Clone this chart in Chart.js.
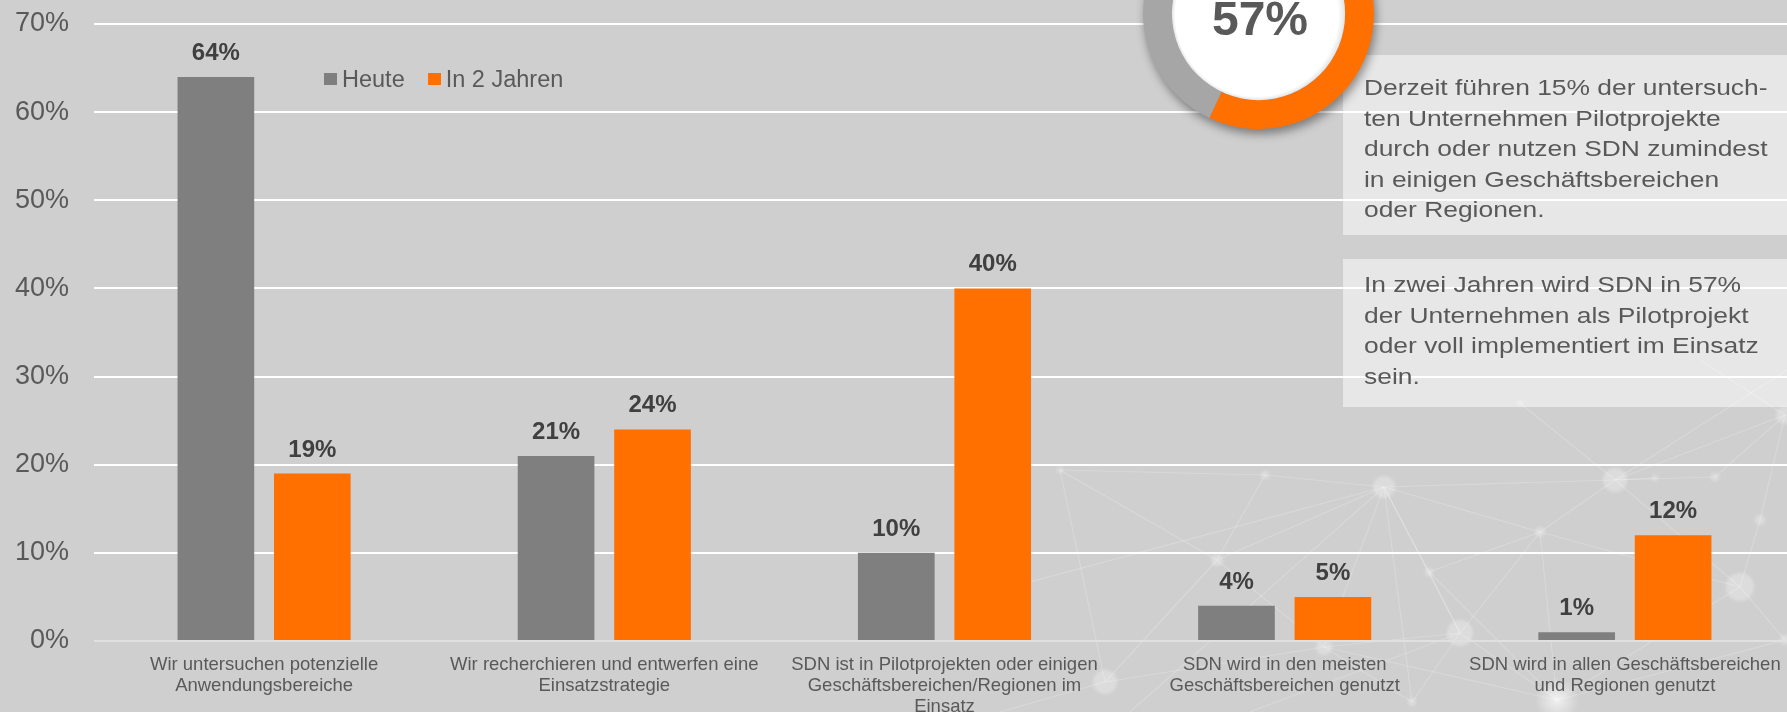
<!DOCTYPE html>
<html lang="de">
<head>
  <meta charset="UTF-8">
  <title>SDN Einsatz heute und in 2 Jahren</title>
  <script src="https://cdn.jsdelivr.net/npm/chart.js"></script>
  <style>
    body {
      margin: 0;
      width: 1787px;
      height: 712px;
      overflow: hidden;
      position: relative;
      background-color: #cfcfcf;
      font-family: Arial, "Liberation Sans", sans-serif;
    }
    .net {
      position: absolute;
      left: 0;
      top: 0;
    }
    .wrap {
      position: absolute;
      left: 0;
      top: 0;
    }
    #legend {
      position: absolute;
      left: 324px;
      top: 65px;
      display: flex;
      align-items: center;
      font-size: 23.5px;
      color: #595959;
      line-height: 28px;
    }
    #legend span.box {
      display: inline-block;
      width: 13px;
      height: 12px;
      margin-right: 5px;
    }
    #legend span.item {
      display: flex;
      align-items: center;
      margin-right: 23px;
    }
    .note {
      position: absolute;
      left: 1343px;
      width: 444px;
      background-color: rgba(255, 255, 255, 0.5);
      box-sizing: border-box;
      padding-left: 21px;
    }
    .note .txt {
      font-size: 22px;
      line-height: 30.5px;
      color: #595959;
      white-space: nowrap;
      transform: scaleX(1.2);
      transform-origin: left top;
    }
    #shareChart {
      position: absolute;
      left: 1143px;
      top: -102px;
      filter: drop-shadow(2px 5px 5px rgba(0, 0, 0, 0.4));
    }
  </style>
</head>
<body>

<svg class="net" width="1787" height="712">
  <defs>
    <radialGradient id="glow">
      <stop offset="0" stop-color="#fff" stop-opacity="0.7"/>
      <stop offset="1" stop-color="#fff" stop-opacity="0"/>
    </radialGradient>
    <filter id="soft"><feGaussianBlur stdDeviation="1.5"/></filter>
  </defs>
  <g stroke="#fff" stroke-opacity="0.2" stroke-width="1.2">
    <line x1="1384" y1="487" x2="1217" y2="560"/>
    <line x1="1384" y1="487" x2="1265" y2="475"/>
    <line x1="1384" y1="487" x2="1540" y2="532"/>
    <line x1="1384" y1="487" x2="1429" y2="572"/>
    <line x1="1384" y1="487" x2="1460" y2="633"/>
    <line x1="1384" y1="487" x2="1324" y2="647"/>
    <line x1="1384" y1="487" x2="1615" y2="480"/>
    <line x1="1384" y1="487" x2="1412" y2="702"/>
    <line x1="1384" y1="487" x2="1000" y2="590"/>
    <line x1="1384" y1="487" x2="1130" y2="712"/>
    <line x1="1615" y1="480" x2="1540" y2="532"/>
    <line x1="1615" y1="480" x2="1655" y2="478"/>
    <line x1="1615" y1="480" x2="1715" y2="477"/>
    <line x1="1615" y1="480" x2="1740" y2="587"/>
    <line x1="1615" y1="480" x2="1520" y2="403"/>
    <line x1="1615" y1="480" x2="1785" y2="415"/>
    <line x1="1540" y1="532" x2="1429" y2="572"/>
    <line x1="1540" y1="532" x2="1460" y2="633"/>
    <line x1="1540" y1="532" x2="1740" y2="587"/>
    <line x1="1540" y1="532" x2="1557" y2="700"/>
    <line x1="1429" y1="572" x2="1460" y2="633"/>
    <line x1="1429" y1="572" x2="1557" y2="700"/>
    <line x1="1217" y1="560" x2="1324" y2="647"/>
    <line x1="1217" y1="560" x2="1105" y2="682"/>
    <line x1="1217" y1="560" x2="1265" y2="475"/>
    <line x1="1217" y1="560" x2="1060" y2="470"/>
    <line x1="1460" y1="633" x2="1324" y2="647"/>
    <line x1="1460" y1="633" x2="1557" y2="700"/>
    <line x1="1460" y1="633" x2="1412" y2="702"/>
    <line x1="1460" y1="633" x2="1250" y2="712"/>
    <line x1="1324" y1="647" x2="1105" y2="682"/>
    <line x1="1324" y1="647" x2="1412" y2="702"/>
    <line x1="1324" y1="647" x2="1557" y2="700"/>
    <line x1="1740" y1="587" x2="1760" y2="520"/>
    <line x1="1740" y1="587" x2="1785" y2="640"/>
    <line x1="1740" y1="587" x2="1557" y2="700"/>
    <line x1="1760" y1="520" x2="1785" y2="415"/>
    <line x1="1715" y1="477" x2="1785" y2="415"/>
    <line x1="1105" y1="682" x2="1060" y2="470"/>
    <line x1="1105" y1="682" x2="1000" y2="712"/>
    <line x1="1265" y1="475" x2="1060" y2="470"/>
    <line x1="1557" y1="700" x2="1785" y2="640"/>
    <line x1="1785" y1="415" x2="1700" y2="360"/>
    <line x1="1615" y1="480" x2="1787" y2="370"/>
  </g>
  <g fill="#fff" fill-opacity="0.28" filter="url(#soft)">
    <circle cx="1384" cy="487" r="11"/>
    <circle cx="1615" cy="480" r="12"/>
    <circle cx="1540" cy="532" r="5"/>
    <circle cx="1429" cy="572" r="4"/>
    <circle cx="1217" cy="560" r="6"/>
    <circle cx="1265" cy="475" r="4"/>
    <circle cx="1460" cy="633" r="13"/>
    <circle cx="1324" cy="647" r="8"/>
    <circle cx="1105" cy="682" r="12"/>
    <circle cx="1740" cy="587" r="14"/>
    <circle cx="1760" cy="520" r="5"/>
    <circle cx="1655" cy="478" r="3"/>
    <circle cx="1715" cy="477" r="4"/>
    <circle cx="1785" cy="415" r="9"/>
    <circle cx="1412" cy="702" r="4"/>
    <circle cx="1520" cy="403" r="3"/>
    <circle cx="1060" cy="470" r="3"/>
    <circle cx="1785" cy="640" r="5"/>
  </g>
  <circle cx="1557" cy="700" r="22" fill="url(#glow)"/>
</svg>

<div class="wrap"><canvas id="sdnChart" width="1795" height="716"></canvas></div>
<div id="legend"></div>

<div class="note" style="top: 55px; height: 180px; padding-top: 18px;">
  <div class="txt">Derzeit führen 15% der untersuch-<br>ten Unternehmen Pilotprojekte<br>durch oder nutzen SDN zumindest<br>in einigen Geschäftsbereichen<br>oder Regionen.</div>
</div>
<div class="note" style="top: 259px; height: 148px; padding-top: 11px;">
  <div class="txt">In zwei Jahren wird SDN in 57%<br>der Unternehmen als Pilotprojekt<br>oder voll implementiert im Einsatz<br>sein.</div>
</div>

<canvas id="shareChart" width="231" height="231"></canvas>

<script>
  // Kategorien (mehrzeilige Achsenbeschriftung)
  const categories = [
    ['Wir untersuchen potenzielle', 'Anwendungsbereiche'],
    ['Wir recherchieren und entwerfen eine', 'Einsatzstrategie'],
    ['SDN ist in Pilotprojekten oder einigen', 'Geschäftsbereichen/Regionen im', 'Einsatz'],
    ['SDN wird in den meisten', 'Geschäftsbereichen genutzt'],
    ['SDN wird in allen Geschäftsbereichen', 'und Regionen genutzt']
  ];
  const seriesNames = ['Heute', 'In 2 Jahren'];
  const heute = [64, 21, 10, 4, 1];
  const in2Jahren = [19, 24, 40, 5, 12];
  const yTicks = [0, 10, 20, 30, 40, 50, 60, 70];

  // Ring oben: Anteil mit SDN-Einsatz in 2 Jahren
  const shareLabels = ['Pilot oder voll im Einsatz', 'Rest'];
  const shareValues = [57, 43];

  const GRAY = '#7f7f7f';
  const ORANGE = '#ff7000';
  const TEXT = '#595959';

  Chart.defaults.font.family = 'Arial, "Liberation Sans", sans-serif';
  Chart.defaults.color = TEXT;

  // Prozentwerte über den Balken
  const barValueLabels = {
    id: 'barValueLabels',
    afterDatasetsDraw(chart) {
      const ctx = chart.ctx;
      ctx.save();
      ctx.font = 'bold 24px Arial, "Liberation Sans", sans-serif';
      ctx.fillStyle = '#404040';
      ctx.textAlign = 'center';
      ctx.textBaseline = 'alphabetic';
      chart.data.datasets.forEach((ds, i) => {
        chart.getDatasetMeta(i).data.forEach((bar, j) => {
          ctx.fillText(ds.data[j] + '%', bar.x, bar.y - 17);
        });
      });
      ctx.restore();
    }
  };

  const barChart = new Chart(document.getElementById('sdnChart'), {
    type: 'bar',
    data: {
      labels: categories,
      datasets: [
        { label: seriesNames[0], data: heute, backgroundColor: GRAY },
        { label: seriesNames[1], data: in2Jahren, backgroundColor: ORANGE }
      ]
    },
    options: {
      responsive: false,
      animation: false,
      categoryPercentage: 0.567,
      barPercentage: 0.795,
      layout: { padding: { left: 0, top: 24, right: 0, bottom: 0 } },
      plugins: {
        legend: { display: false },
        tooltip: { enabled: false }
      },
      scales: {
        x: {
          grid: { display: false },
          border: { display: false },
          afterFit(scale) {
            scale.height = 75;
            scale.paddingLeft = 0;
            scale.paddingRight = 0;
          },
          ticks: {
            padding: 5,
            color: TEXT,
            maxRotation: 0,
            autoSkip: false,
            font: { size: 18.5, lineHeight: '21px' }
          }
        },
        y: {
          min: 0,
          max: 70,
          afterBuildTicks(scale) {
            scale.ticks = yTicks.map(v => ({ value: v }));
          },
          afterFit(scale) {
            scale.width = 94;
            scale.paddingTop = 0;
            scale.paddingBottom = 0;
          },
          grid: {
            drawTicks: false,
            lineWidth: 2,
            color: c => c.tick && c.tick.value === 0 ? '#e0e0e0' : '#ffffff'
          },
          border: { display: false },
          ticks: {
            padding: 25,
            color: TEXT,
            font: { size: 27 },
            callback: v => v + '%'
          }
        }
      }
    },
    plugins: [barValueLabels]
  });

  // Legende als HTML aus den Datensätzen
  const legend = document.getElementById('legend');
  barChart.data.datasets.forEach(ds => {
    const item = document.createElement('span');
    item.className = 'item';
    const box = document.createElement('span');
    box.className = 'box';
    box.style.backgroundColor = ds.backgroundColor;
    item.appendChild(box);
    item.appendChild(document.createTextNode(ds.label));
    legend.appendChild(item);
  });

  // weißer Innenkreis mit Prozentzahl
  const ringCenter = {
    id: 'ringCenter',
    afterDatasetsDraw(chart) {
      const arc = chart.getDatasetMeta(0).data[0];
      const ctx = chart.ctx;
      const r = arc.innerRadius;
      ctx.save();
      const g = ctx.createRadialGradient(arc.x - 12, arc.y + 10, r * 0.6, arc.x, arc.y, r);
      g.addColorStop(0, '#ffffff');
      g.addColorStop(0.85, '#ffffff');
      g.addColorStop(1, '#e4e4e4');
      ctx.fillStyle = g;
      ctx.beginPath();
      ctx.arc(arc.x, arc.y, r, 0, Math.PI * 2);
      ctx.fill();
      ctx.font = 'bold 48px Arial, "Liberation Sans", sans-serif';
      ctx.fillStyle = TEXT;
      ctx.textAlign = 'center';
      ctx.textBaseline = 'alphabetic';
      ctx.fillText(chart.data.datasets[0].data[0] + '%', arc.x + 1.5, arc.y + 21.5);
      ctx.restore();
    }
  };

  new Chart(document.getElementById('shareChart'), {
    type: 'doughnut',
    data: {
      labels: shareLabels,
      datasets: [{
        data: shareValues,
        backgroundColor: [ORANGE, '#a6a6a6'],
        borderWidth: 0
      }]
    },
    options: {
      responsive: false,
      animation: false,
      cutout: '75%',
      plugins: {
        legend: { display: false },
        tooltip: { enabled: false }
      }
    },
    plugins: [ringCenter]
  });
</script>

</body>
</html>
